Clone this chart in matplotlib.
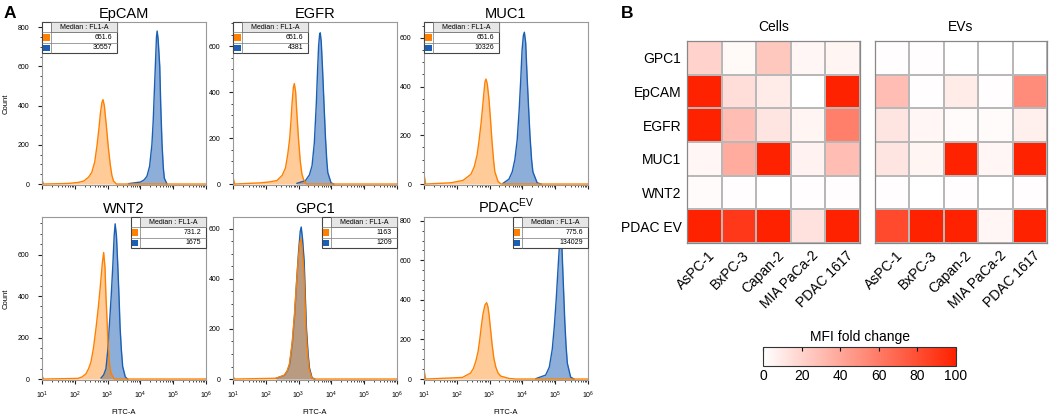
import numpy as np
import matplotlib
matplotlib.use("Agg")
import matplotlib.pyplot as plt
from matplotlib.colors import LinearSegmentedColormap, Normalize
from matplotlib.cm import ScalarMappable
from matplotlib.patches import Rectangle
from matplotlib.ticker import LogLocator, NullFormatter, AutoMinorLocator

plt.rcParams['font.family'] = ['Liberation Sans', 'DejaVu Sans']

# ---- panel A: histogram traces (x = log10 FITC-A, y = count) ----
epcam_ctrl_x = [1.0, 1.05, 1.81, 2.1, 2.27, 2.42, 2.52, 2.61, 2.68, 2.74, 2.78, 2.83, 2.86, 2.90, 2.96, 3.02, 3.08, 3.13, 3.18, 3.27, 6.0]
epcam_ctrl_y = [20, 0, 3, 8, 15, 35, 60, 115, 200, 290, 360, 418, 430, 400, 300, 190, 100, 45, 15, 0, 0]
epcam_x = [3.64, 4.0, 4.12, 4.2, 4.28, 4.35, 4.39, 4.42, 4.46, 4.49, 4.51, 4.54, 4.59, 4.62, 4.66, 4.70, 4.73, 4.81]
epcam_y = [2, 10, 22, 40, 90, 200, 320, 450, 620, 750, 780, 740, 600, 400, 200, 80, 30, 0]

egfr_ctrl_x = [1.0, 1.05, 1.83, 2.1, 2.34, 2.50, 2.60, 2.67, 2.73, 2.77, 2.80, 2.84, 2.87, 2.91, 2.95, 3.0, 3.05, 3.10, 3.15, 3.24, 6.0]
egfr_ctrl_y = [30, 0, 5, 9, 15, 38, 70, 130, 200, 280, 350, 420, 437, 400, 300, 190, 100, 45, 20, 0, 0]
egfr_x = [2.95, 3.21, 3.33, 3.41, 3.48, 3.54, 3.58, 3.61, 3.64, 3.66, 3.69, 3.73, 3.78, 3.82, 3.86, 3.89, 3.99, 4.07]
egfr_y = [3, 15, 40, 80, 180, 350, 500, 600, 650, 658, 620, 500, 330, 200, 100, 50, 5, 0]

muc1_ctrl_x = [1.0, 1.05, 1.82, 2.19, 2.43, 2.53, 2.62, 2.68, 2.74, 2.79, 2.83, 2.86, 2.89, 2.93, 2.98, 3.03, 3.07, 3.12, 3.16, 3.26, 3.35, 6.0]
muc1_ctrl_y = [40, 0, 5, 15, 40, 70, 120, 180, 250, 320, 380, 420, 431, 410, 350, 260, 180, 100, 50, 10, 0, 0]
muc1_x = [3.41, 3.59, 3.69, 3.77, 3.84, 3.90, 3.95, 3.99, 4.03, 4.06, 4.10, 4.14, 4.19, 4.23, 4.28, 4.32, 4.45, 4.57]
muc1_y = [3, 20, 50, 100, 180, 300, 430, 550, 610, 623, 580, 450, 310, 200, 100, 50, 5, 0]

wnt2_ctrl_x = [1.0, 1.05, 2.09, 2.22, 2.34, 2.42, 2.49, 2.57, 2.65, 2.72, 2.78, 2.84, 2.88, 2.92, 2.95, 2.99, 3.02, 3.06, 3.10, 3.20, 6.0]
wnt2_ctrl_y = [15, 0, 3, 10, 25, 50, 80, 150, 250, 350, 450, 560, 610, 540, 400, 260, 150, 70, 30, 0, 0]
wnt2_x = [2.80, 2.88, 2.95, 3.0, 3.05, 3.11, 3.16, 3.20, 3.23, 3.27, 3.31, 3.35, 3.38, 3.42, 3.46, 3.54, 3.61]
wnt2_y = [5, 20, 50, 130, 250, 400, 550, 690, 748, 690, 550, 390, 250, 140, 60, 10, 0]

gpc1_ctrl_x = [1.0, 1.05, 2.31, 2.56, 2.65, 2.72, 2.80, 2.87, 2.93, 2.99, 3.04, 3.07, 3.11, 3.16, 3.20, 3.23, 3.28, 3.32, 3.40, 3.48, 6.0]
gpc1_ctrl_y = [10, 0, 3, 15, 32, 60, 140, 250, 370, 480, 545, 560, 520, 430, 290, 180, 90, 40, 5, 0, 0]
gpc1_x = [2.32, 2.57, 2.66, 2.73, 2.81, 2.88, 2.94, 3.00, 3.05, 3.08, 3.12, 3.17, 3.21, 3.24, 3.29, 3.33, 3.41, 3.49]
gpc1_y = [3, 15, 33, 60, 145, 260, 390, 510, 590, 607, 560, 470, 310, 200, 100, 45, 5, 0]

pdac_ctrl_x = [1.0, 1.05, 2.17, 2.42, 2.51, 2.58, 2.65, 2.70, 2.75, 2.80, 2.86, 2.91, 2.95, 2.98, 3.03, 3.08, 3.13, 3.19, 3.26, 3.34, 3.59, 3.80, 6.0]
pdac_ctrl_y = [45, 0, 8, 30, 55, 90, 140, 200, 270, 330, 375, 386, 365, 330, 250, 170, 105, 60, 30, 15, 3, 0, 0]
pdac_x = [4.41, 4.71, 4.82, 4.91, 4.97, 5.03, 5.08, 5.12, 5.15, 5.17, 5.19, 5.22, 5.26, 5.29, 5.33, 5.37, 5.47, 5.57]
pdac_y = [2, 20, 60, 150, 260, 400, 540, 650, 740, 779, 740, 600, 430, 300, 170, 80, 10, 0]

hist_titles = ['EpCAM', 'EGFR', 'MUC1', 'WNT2', 'GPC1', r'PDAC$^{\mathregular{EV}}$']
ctrl_medians = ['651.6', '651.6', '651.6', '731.2', '1163', '775.6']
stain_medians = ['30557', '4381', '10326', '1675', '1209', '134029']
y_tops = [800, 600, 600, 600, 600, 800]

# ---- panel B: MFI fold change heatmaps ----
markers = ['GPC1', 'EpCAM', 'EGFR', 'MUC1', 'WNT2', 'PDAC EV']
lines = ['AsPC-1', 'BxPC-3', 'Capan-2', 'MIA PaCa-2', 'PDAC 1617']
cells_mfi = [
    [20, 3, 25, 4, 5],
    [100, 15, 9, 0, 100],
    [100, 30, 12, 5, 58],
    [4, 38, 100, 6, 30],
    [2, 1, 0, 1, 1],
    [100, 90, 100, 13, 100],
]
evs_mfi = [
    [1, 1, 0, 0, 0],
    [30, 1, 9, 1, 52],
    [12, 4, 2, 2, 7],
    [12, 5, 100, 4, 100],
    [1, 0, 1, 0, 1],
    [82, 100, 100, 4, 100],
]

W, H = 1050, 415
fig = plt.figure(figsize=(10.5, 4.15), dpi=100)


def box(l, t, r, b):
    return [l / W, 1 - b / H, (r - l) / W, (b - t) / H]


ORANGE = '#ff8000'
BLUE = '#1a5fb4'


def draw_table(ax, right_side, m1, m2):
    tw, th = 0.46, 0.19
    x0 = 1 - tw if right_side else 0.0
    y0 = 1 - th
    c1 = 0.055
    rh = th / 3
    kw = dict(transform=ax.transAxes, clip_on=False, zorder=5)
    ax.add_patch(Rectangle((x0, y0), tw, th, facecolor='white', edgecolor='#444444', lw=0.8, **kw))
    ax.add_patch(Rectangle((x0 + c1, y0 + 2 * rh), tw - c1, rh, facecolor='#e6e6e6', edgecolor='#777777', lw=0.5, **kw))
    for i in range(1, 3):
        ax.plot([x0, x0 + tw], [y0 + i * rh] * 2, color='#777777', lw=0.5, **kw)
    ax.plot([x0 + c1] * 2, [y0, y0 + th], color='#777777', lw=0.5, **kw)
    ax.text(x0 + c1 + (tw - c1) / 2, y0 + 2.5 * rh, 'Median : FL1-A', ha='center', va='center',
            fontsize=5, **kw)
    for j, (col, val) in enumerate([(ORANGE, m1), (BLUE, m2)]):
        yc = y0 + (1.5 - j) * rh
        ax.add_patch(Rectangle((x0 + 0.009, yc - 0.019), 0.037, 0.038, facecolor=col, edgecolor='none', **kw))
        ax.text(x0 + tw - 0.03, yc, val, ha='right', va='center', fontsize=5, **kw)


hist_data = [
    (epcam_ctrl_x, epcam_ctrl_y, epcam_x, epcam_y),
    (egfr_ctrl_x, egfr_ctrl_y, egfr_x, egfr_y),
    (muc1_ctrl_x, muc1_ctrl_y, muc1_x, muc1_y),
    (wnt2_ctrl_x, wnt2_ctrl_y, wnt2_x, wnt2_y),
    (gpc1_ctrl_x, gpc1_ctrl_y, gpc1_x, gpc1_y),
    (pdac_ctrl_x, pdac_ctrl_y, pdac_x, pdac_y),
]
ylims = [826, 705, 665, 781, 647, 819]
col_left = [42, 233, 424]
row_top = [22, 217]

for i, (cx, cy, sx, sy) in enumerate(hist_data):
    r, c = divmod(i, 3)
    l = col_left[c]
    t = row_top[r]
    ax = fig.add_axes(box(l, t, l + 164, t + 163))
    # stained sample first, control on top
    sxa = 10 ** np.array(sx)
    cxa = 10 ** np.array(cx)
    ax.fill_between(sxa, sy, color=BLUE, alpha=0.5, lw=0)
    ax.plot(sxa, sy, color=BLUE, lw=1.0)
    ax.fill_between(cxa, cy, color=ORANGE, alpha=0.4, lw=0)
    ax.plot(cxa, cy, color=ORANGE, lw=1.0)

    ax.set_xscale('log')
    ax.set_xlim(10, 1e6)
    ax.set_ylim(-0.006 * ylims[i], ylims[i])
    ax.xaxis.set_major_locator(LogLocator(base=10, numticks=10))
    ax.xaxis.set_minor_locator(LogLocator(base=10, subs=np.arange(2, 10), numticks=20))
    ax.xaxis.set_minor_formatter(NullFormatter())
    if r == 1:
        ax.set_xticks([10 ** k for k in range(1, 7)])
        ax.set_xticklabels([r'$\mathregular{10^{%d}}$' % k for k in range(1, 7)])
        ax.set_xlabel('FITC-A', fontsize=5.5, labelpad=6)
    else:
        ax.xaxis.set_major_formatter(NullFormatter())
    ax.set_yticks(np.arange(0, y_tops[i] + 1, 200))
    ax.yaxis.set_minor_locator(AutoMinorLocator(4))
    ax.tick_params(axis='both', which='major', labelsize=5, length=3, width=0.8, pad=2, color='#222222')
    ax.tick_params(axis='both', which='minor', length=1.5, width=0.6, color='#222222')
    ax.tick_params(axis='y', pad=6)
    ax.tick_params(axis='x', pad=4)
    if c == 0:
        ax.set_ylabel('Count', fontsize=5.5, labelpad=6)
    for sp in ax.spines.values():
        sp.set_color('#999999')
        sp.set_linewidth(0.8)
    ax.set_title(hist_titles[i], fontsize=10.5, pad=3)
    draw_table(ax, r == 1, ctrl_medians[i], stain_medians[i])

fig.text(10 / W, 1 - 14 / H, 'A', fontsize=12.5, fontweight='bold', ha='center', va='center')
fig.text(627 / W, 1 - 14 / H, 'B', fontsize=12.5, fontweight='bold', ha='center', va='center')

# ---- panel B ----
cmap = LinearSegmentedColormap.from_list('wr', ['#ffffff', '#ff2200'])
norm = Normalize(0, 100)
for vals, l, r, title, show_y in [(cells_mfi, 687, 860, 'Cells', True), (evs_mfi, 875, 1047, 'EVs', False)]:
    ax = fig.add_axes(box(l, 41, r, 243))
    ax.pcolormesh(np.array(vals, dtype=float), cmap=cmap, norm=norm, edgecolors='#b8b8b8', linewidth=1.4)
    ax.set_xlim(0, 5)
    ax.set_ylim(6, 0)
    ax.set_xticks(np.arange(5) + 0.6)
    ax.set_xticklabels(lines, rotation=45, ha='right', va='top', rotation_mode='anchor', fontsize=10)
    ax.set_yticks(np.arange(6) + 0.5)
    if show_y:
        ax.set_yticklabels(markers, fontsize=10)
    else:
        ax.set_yticklabels([])
    ax.tick_params(length=0, pad=4)
    for sp in ax.spines.values():
        sp.set_color('#888888')
        sp.set_linewidth(0.9)
    ax.set_title(title, fontsize=10, pad=7)

cax = fig.add_axes(box(763, 347, 956, 366))
cb = fig.colorbar(ScalarMappable(norm=norm, cmap=cmap), cax=cax, orientation='horizontal')
cb.set_ticks([0, 20, 40, 60, 80, 100])
cax.tick_params(axis='x', direction='in', length=3, top=True, bottom=False, labelsize=10, pad=2)
cb.outline.set_edgecolor('#333333')
cb.outline.set_linewidth(0.8)
cax.set_title('MFI fold change', fontsize=10, pad=4)

fig.savefig('out.png', dpi=100)
